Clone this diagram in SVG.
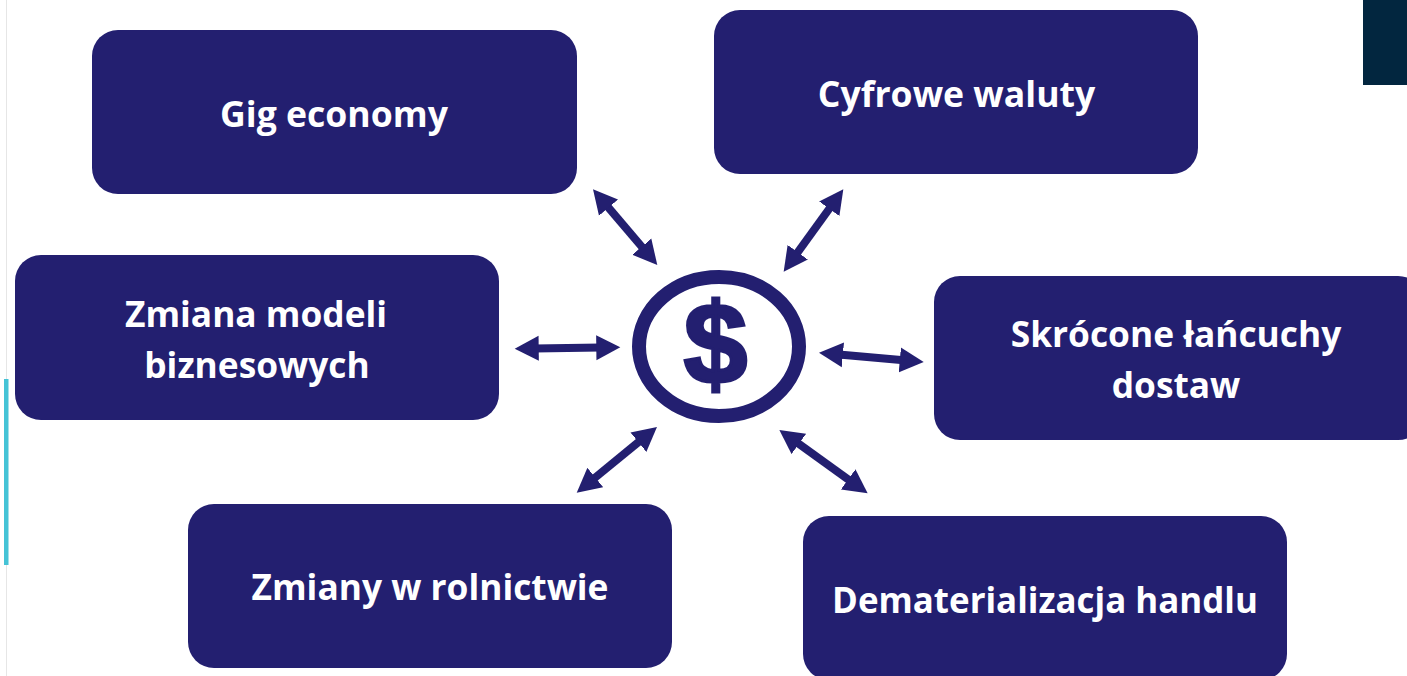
<svg xmlns="http://www.w3.org/2000/svg" width="1407" height="676" viewBox="0 0 1407 676">
<style>
.box{fill:#231f70}
.t{font-family:"Open Sans","Liberation Sans",sans-serif;font-weight:700;font-size:35.300px;fill:#fff;text-anchor:middle}
.a{stroke:#231f70;stroke-width:8;fill:none;marker-start:url(#h);marker-end:url(#h)}
</style>
<defs>
<marker id="h" markerUnits="userSpaceOnUse" markerWidth="26" markerHeight="26" refX="4" refY="13" orient="auto-start-reverse" viewBox="0 0 26 26"><path d="M0 0.500L24 13L0 25.500Z" fill="#231f70"/></marker>
</defs>
<rect width="1407" height="676" fill="#fff"/>
<g id="decor">
<rect x="6" y="0" width="1" height="676" fill="#e6e6e6"/>
<rect x="4" y="379" width="4.500" height="186" fill="#45c3d6"/>
<rect x="1363" y="0" width="44" height="85" fill="#02263f"/>
</g>
<g id="connectors">
<line class="a" x1="605.950" y1="204.550" x2="644.350" y2="249.750"/>
<line class="a" x1="831.600" y1="205.500" x2="795.400" y2="255.500"/>
<line class="a" x1="534.700" y1="348.400" x2="600.300" y2="347.600"/>
<line class="a" x1="838.900" y1="354.500" x2="903.800" y2="360.200"/>
<line class="a" x1="641.500" y1="439.700" x2="592.200" y2="480"/>
<line class="a" x1="795.600" y1="441.600" x2="851.400" y2="481.700"/>
</g>
<g id="center">
<ellipse cx="719" cy="346.500" rx="80" ry="69.500" fill="#fff" stroke="#231f70" stroke-width="14"/>
<text x="715.500" y="383" font-family="Liberation Sans,sans-serif" font-weight="700" font-size="115" fill="#231f70" stroke="#231f70" stroke-width="3" text-anchor="middle">$</text>
</g>
<g id="gig"><rect class="box" x="92" y="30" width="485" height="164" rx="26"/><text class="t" x="334" y="127" style="font-size:35.600px">Gig economy</text></g>
<g id="waluty"><rect class="box" x="714" y="10" width="484" height="164" rx="26"/><text class="t" x="956.500" y="107" style="font-size:35.600px">Cyfrowe waluty</text></g>
<g id="modele"><rect class="box" x="15" y="255" width="484" height="165" rx="26"/><text class="t" x="256" y="327">Zmiana modeli</text><text class="t" x="257" y="378">biznesowych</text></g>
<g id="lancuchy"><rect class="box" x="934" y="276" width="490" height="164" rx="26"/><text class="t" x="1176" y="347">Skrócone łańcuchy</text><text class="t" x="1176" y="398">dostaw</text></g>
<g id="rolnictwo"><rect class="box" x="188" y="504" width="484" height="164" rx="26"/><text class="t" x="430" y="600">Zmiany w rolnictwie</text></g>
<g id="handel"><rect class="box" x="803" y="516" width="484" height="164" rx="26"/><text class="t" x="1045" y="612.500" style="font-size:34.900px">Dematerializacja handlu</text></g>
</svg>
